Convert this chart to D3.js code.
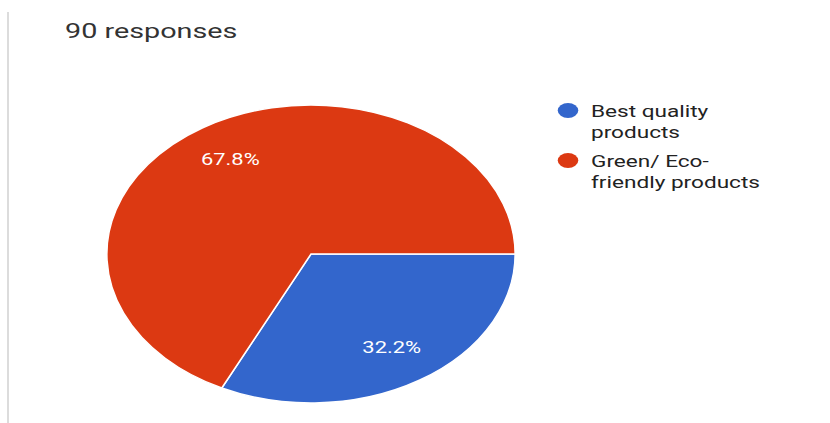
<!DOCTYPE html>
<html>
<head>
<meta charset="utf-8">
<script src="https://cdn.jsdelivr.net/npm/d3@7"></script>
<style>
  html, body { margin: 0; padding: 0; background: #fff; }
  svg { display: block; font-family: Roboto, Arial, sans-serif; }
</style>
</head>
<body>
<svg id="chart" width="830" height="423"></svg>
<script>
// Survey answers
const title = "90 responses";
const categories = ["Best quality products", "Green/ Eco-friendly products"];
const legendLines = [["Best quality", "products"], ["Green/ Eco-", "friendly products"]];
const shares = [32.2, 67.8];
const colors = ["#3366cc", "#dc3912"];

const W = 830, H = 423;
const sx = 1.37;              // horizontal stretch of the whole layout
const cx = 311, cy = 254;     // pie centre
const ry = 149;               // vertical radius; horizontal = ry * sx

const svg = d3.select("#chart");

// left frame rule
svg.append("line")
  .attr("x1", 8).attr("x2", 8).attr("y1", 12).attr("y2", H)
  .attr("stroke", "#dcdcdc").attr("stroke-width", 2);

// title
svg.append("text")
  .attr("transform", `translate(65,38) scale(${sx},1)`)
  .attr("font-size", 21)
  .attr("fill", "#333")
  .text(title);

const color = d3.scaleOrdinal().domain(categories).range(colors);

const pie = d3.pie()
  .sort(null)
  .value(d => d.value)
  .startAngle(Math.PI / 2)
  .endAngle(Math.PI / 2 + 2 * Math.PI);

const data = categories.map((c, i) => ({ name: c, value: shares[i] }));
const arcs = pie(data);

const arc = d3.arc().innerRadius(0).outerRadius(ry);
const labelArc = d3.arc().innerRadius(ry * 0.745).outerRadius(ry * 0.745);

const g = svg.append("g")
  .attr("transform", `translate(${cx},${cy}) scale(${sx},1)`);

g.selectAll("path")
  .data(arcs)
  .join("path")
  .attr("d", arc)
  .attr("fill", d => color(d.data.name))
  .attr("stroke", "#fff")
  .attr("stroke-width", 1.5)
  .attr("vector-effect", "non-scaling-stroke");

// percentage labels
svg.selectAll("text.pct")
  .data(arcs)
  .join("text")
  .attr("class", "pct")
  .attr("transform", d => {
    const [x, y] = labelArc.centroid(d);
    return `translate(${cx + x * sx},${cy + y + 5}) scale(${sx},1)`;
  })
  .attr("text-anchor", "middle")
  .attr("font-size", 16)
  .attr("fill", "#fff")
  .text(d => d.data.value.toFixed(1) + "%");

// legend
const legend = svg.append("g");
const items = legend.selectAll("g.item")
  .data(categories)
  .join("g")
  .attr("class", "item")
  .attr("transform", (d, i) => `translate(0,${i * 50})`);

items.append("ellipse")
  .attr("cx", 568).attr("cy", 110.5)
  .attr("rx", 7.5 * sx).attr("ry", 7.5)
  .attr("fill", d => color(d));

items.each(function (d, i) {
  const t = d3.select(this);
  legendLines[i].forEach((line, j) => {
    t.append("text")
      .attr("transform", `translate(591,${117 + j * 21}) scale(${sx},1)`)
      .attr("font-size", 16.5)
      .attr("fill", "#222")
      .text(line);
  });
});
</script>
</body>
</html>
